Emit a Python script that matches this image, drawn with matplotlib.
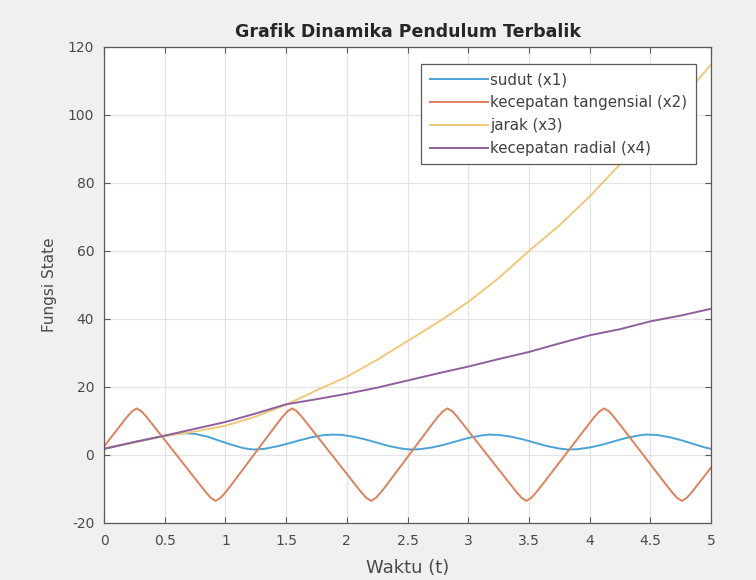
import matplotlib
matplotlib.use("Agg")
import matplotlib.pyplot as plt

plt.rcParams['font.family'] = ['DejaVu Sans']
plt.rcParams['axes.unicode_minus'] = False

title = "Grafik Dinamika Pendulum Terbalik"
xlabel = "Waktu (t)"
ylabel = "Fungsi State"
labels = ["sudut (x1)", "kecepatan tangensial (x2)", "jarak (x3)", "kecepatan radial (x4)"]
colors = ["#4aa3d6", "#e0805c", "#f0c878", "#8f5f9f"]

# x1: sudut
t1 = [0, 0.1, 0.2, 0.3, 0.4, 0.5, 0.6, 0.68, 0.75, 0.85, 0.95, 1.05, 1.15, 1.23,
      1.32, 1.42, 1.52, 1.62, 1.72, 1.8, 1.88, 1.96, 2.05, 2.15, 2.25, 2.35, 2.45,
      2.52, 2.6, 2.7, 2.8, 2.9, 3.0, 3.1, 3.17, 3.25, 3.35, 3.45, 3.55, 3.65, 3.75,
      3.82, 3.9, 4.0, 4.1, 4.2, 4.3, 4.4, 4.46, 4.55, 4.65, 4.75, 4.85, 4.95, 5.0]
x1 = [1.8, 2.6, 3.4, 4.2, 4.9, 5.6, 6.2, 6.4, 6.2, 5.4, 4.2, 3.0, 2.0, 1.6,
      1.8, 2.5, 3.4, 4.4, 5.3, 5.8, 6.0, 5.9, 5.4, 4.6, 3.6, 2.6, 1.9,
      1.6, 1.7, 2.2, 3.0, 4.0, 5.0, 5.7, 6.0, 5.9, 5.4, 4.6, 3.6, 2.6, 1.9,
      1.6, 1.7, 2.2, 3.0, 4.0, 5.0, 5.7, 6.0, 5.9, 5.3, 4.4, 3.3, 2.2, 1.8]

# x2: kecepatan tangensial
t2 = [0, 0.15, 0.19, 0.23, 0.27, 0.31, 0.35, 0.39,
      0.80, 0.84, 0.88, 0.92, 0.96, 1.00, 1.04,
      1.43, 1.47, 1.51, 1.55, 1.59, 1.63, 1.67,
      2.08, 2.12, 2.16, 2.20, 2.24, 2.28, 2.32,
      2.71, 2.75, 2.79, 2.83, 2.87, 2.91, 2.95,
      3.36, 3.40, 3.44, 3.48, 3.52, 3.56, 3.60,
      4.00, 4.04, 4.08, 4.12, 4.16, 4.20, 4.24,
      4.64, 4.68, 4.72, 4.76, 4.80, 4.84, 4.88,
      5.0]
x2 = [2.5, 9.4, 11.2, 12.8, 13.7, 12.8, 11.2, 9.4,
      -9.2, -11.0, -12.6, -13.5, -12.6, -11.0, -9.2,
      9.4, 11.2, 12.8, 13.7, 12.8, 11.2, 9.4,
      -9.2, -11.0, -12.6, -13.5, -12.6, -11.0, -9.2,
      9.4, 11.2, 12.8, 13.7, 12.8, 11.2, 9.4,
      -9.2, -11.0, -12.6, -13.5, -12.6, -11.0, -9.2,
      9.4, 11.2, 12.8, 13.7, 12.8, 11.2, 9.4,
      -9.2, -11.0, -12.6, -13.5, -12.6, -11.0, -9.2,
      -3.7]

# common grid for x3, x4
t34 = [0, 0.25, 0.5, 0.75, 1.0, 1.25, 1.5, 1.75, 2.0, 2.25, 2.5, 2.75, 3.0,
       3.25, 3.5, 3.75, 4.0, 4.25, 4.5, 4.75, 5.0]
x3 = [2.0, 3.7, 5.6, 6.9, 8.6, 11.3, 14.8, 19.0, 23.0, 28.0, 33.5, 39.0, 45.0,
      52.0, 60.0, 67.5, 76.0, 85.5, 95.0, 104.5, 114.8]
x4 = [1.8, 3.8, 5.7, 7.7, 9.7, 12.2, 14.9, 16.4, 18.0, 19.8, 21.9, 24.0, 26.0,
      28.2, 30.3, 32.8, 35.2, 37.0, 39.3, 41.0, 43.0]

xticks = [0, 0.5, 1, 1.5, 2, 2.5, 3, 3.5, 4, 4.5, 5]
xticklabels = ["0", "0.5", "1", "1.5", "2", "2.5", "3", "3.5", "4", "4.5", "5"]
yticks = [-20, 0, 20, 40, 60, 80, 100, 120]

fig = plt.figure(figsize=(7.56, 5.80), dpi=100, facecolor="#f0f0f0")
ax = fig.add_axes([0.1376, 0.0983, 0.8029, 0.8207])
ax.set_facecolor("white")

ax.plot(t1, x1, color=colors[0], lw=1.4, label=labels[0])
ax.plot(t2, x2, color=colors[1], lw=1.4, label=labels[1])
ax.plot(t34, x3, color=colors[2], lw=1.4, label=labels[2])
ax.plot(t34, x4, color=colors[3], lw=1.4, label=labels[3])

ax.set_xlim(0, 5)
ax.set_ylim(-20, 120)
ax.set_xticks(xticks)
ax.set_xticklabels(xticklabels)
ax.set_yticks(yticks)
ax.grid(True, color="#e4e4e4", lw=0.9)
ax.set_axisbelow(True)
ax.tick_params(direction="in", length=4, colors="#5a5a5a", labelcolor="#4a4a4a",
               labelsize=10, top=True, right=True)
ax.tick_params(axis="x", pad=8)
ax.tick_params(axis="y", pad=7)
for s in ax.spines.values():
    s.set_color("#5a5a5a")
    s.set_linewidth(0.9)

ax.set_title(title, fontsize=12.5, fontweight="bold", color="#262626", pad=7)
ax.set_xlabel(xlabel, fontsize=13, color="#4a4a4a", labelpad=8)
ax.set_ylabel(ylabel, fontsize=11, color="#4a4a4a", labelpad=8)

leg = ax.legend(loc="upper right", bbox_to_anchor=(0.975, 0.964), fontsize=10.8,
                frameon=True, fancybox=False, edgecolor="#5a5a5a", framealpha=1,
                handlelength=3.9, handletextpad=0.15, labelspacing=0.53,
                borderpad=0.55, borderaxespad=0)
leg.get_frame().set_linewidth(0.9)
for txt in leg.get_texts():
    txt.set_color("#404040")

fig.savefig("out.png", dpi=100, facecolor=fig.get_facecolor())
